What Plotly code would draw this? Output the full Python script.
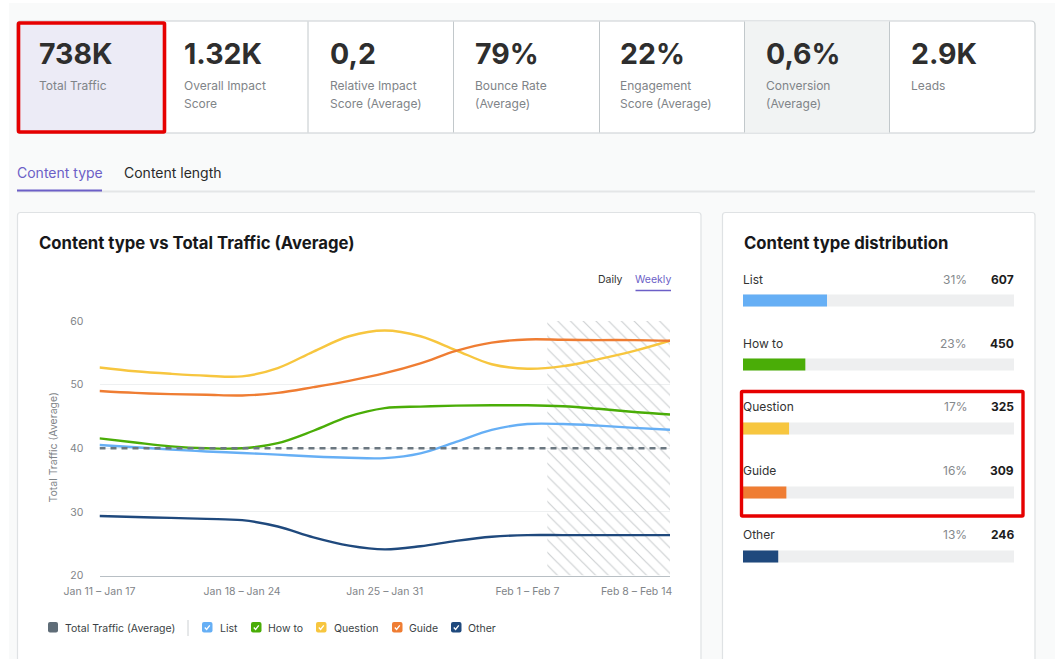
import plotly.graph_objects as go

W, H = 1055, 659
FONT = "Inter"

# ---------- data ----------
week_labels = ["Jan 11 – Jan 17", "Jan 18 – Jan 24", "Jan 25 – Jan 31", "Feb 1 – Feb 7", "Feb 8 – Feb 14"]
week_ticks = [0, 1, 2, 3, 4]
week_pos = [0, 0.25, 0.5, 0.75, 1, 1.25, 1.5, 1.75, 2, 2.25, 2.5, 2.75, 3, 3.25, 3.5, 3.75, 4]
y_ticks = [20, 30, 40, 50, 60]
list_vals = [40.5, 40.15, 39.8, 39.5, 39.25, 39.0, 38.7, 38.5, 38.45, 39.2, 41.0, 42.9, 43.8, 43.8, 43.55, 43.2, 42.9]
howto_vals = [41.55, 40.9, 40.3, 40.0, 40.0, 40.8, 42.75, 45.0, 46.3, 46.55, 46.7, 46.75, 46.75, 46.6, 46.2, 45.7, 45.3]
question_vals = [52.7, 52.1, 51.7, 51.4, 51.3, 52.6, 55.2, 57.6, 58.5, 57.6, 55.4, 53.2, 52.5, 52.9, 54.0, 55.3, 56.9]
guide_vals = [49.0, 48.7, 48.5, 48.4, 48.3, 48.7, 49.6, 50.6, 51.8, 53.35, 55.3, 56.6, 57.1, 57.05, 57.0, 57.0, 56.9]
other_vals = [29.35, 29.2, 29.05, 28.9, 28.7, 27.7, 26.0, 24.7, 24.1, 24.6, 25.45, 26.1, 26.35, 26.35, 26.35, 26.35, 26.35]
average_vals = [40] * len(week_pos)
hatch_start, hatch_end = 3.14, 4

kpi_values = ["738K", "1.32K", "0,2", "79%", "22%", "0,6%", "2.9K"]
kpi_labels = [["Total Traffic"], ["Overall Impact", "Score"], ["Relative Impact", "Score (Average)"],
              ["Bounce Rate", "(Average)"], ["Engagement", "Score (Average)"], ["Conversion", "(Average)"], ["Leads"]]

dist_names = ["List", "How to", "Question", "Guide", "Other"]
dist_pct = [31, 23, 17, 16, 13]
dist_counts = [607, 450, 325, 309, 246]
series_colors = ["#66aff5", "#4aad07", "#f7c63f", "#ef7d33", "#1f497d"]

# ---------- pixel helpers ----------
px = lambda x: x / W
py = lambda y: 1 - y / H


def rrect(x0, y0, x1, y1, r=0):
    X = lambda v: f"{px(v):.5f}"
    Y = lambda v: f"{py(v):.5f}"
    if r == 0:
        return f"M{X(x0)},{Y(y0)}L{X(x1)},{Y(y0)}L{X(x1)},{Y(y1)}L{X(x0)},{Y(y1)}Z"
    return (f"M{X(x0+r)},{Y(y0)}L{X(x1-r)},{Y(y0)}Q{X(x1)},{Y(y0)} {X(x1)},{Y(y0+r)}"
            f"L{X(x1)},{Y(y1-r)}Q{X(x1)},{Y(y1)} {X(x1-r)},{Y(y1)}"
            f"L{X(x0+r)},{Y(y1)}Q{X(x0)},{Y(y1)} {X(x0)},{Y(y1-r)}"
            f"L{X(x0)},{Y(y0+r)}Q{X(x0)},{Y(y0)} {X(x0+r)},{Y(y0)}Z")


shapes, annos = [], []


def box(x0, y0, x1, y1, fill="rgba(0,0,0,0)", line="rgba(0,0,0,0)", lw=1, r=0, layer="below"):
    shapes.append(dict(type="path", xref="paper", yref="paper", path=rrect(x0, y0, x1, y1, r),
                       fillcolor=fill, line=dict(color=line, width=lw), layer=layer))


def seg(x0, y0, x1, y1, color, lw=1, layer="below"):
    shapes.append(dict(type="line", xref="paper", yref="paper", x0=px(x0), x1=px(x1), y0=py(y0), y1=py(y1),
                       line=dict(color=color, width=lw), layer=layer))


def text(x, y, s, size=12, color="#222", anchor="left", bold=False, angle=0):
    annos.append(dict(xref="paper", yref="paper", x=px(x), y=py(y), text=f"<b>{s}</b>" if bold else s,
                      showarrow=False, xanchor=anchor, yanchor="middle", textangle=angle,
                      font=dict(family=FONT, size=size, color=color), borderpad=0, borderwidth=0))


# page
box(9, 3, 1055, 659, fill="#f9fafa")

# KPI strip
dividers = [166, 308, 453.5, 599.5, 744.5, 889.5]
box(17, 21, 1035, 133, fill="#ffffff", line="#c9ced1", lw=1.2, r=4)
box(744.5, 21.5, 889.5, 132.5, fill="#f1f3f3")
for d in dividers[1:]:
    seg(d, 21.5, d, 132.5, "#c2c8cb", 1)
box(18.5, 23, 164.5, 132, fill="#ecebf6", line="#e60000", lw=3.6, r=1)
kpi_x = [39, 184, 330, 475, 620, 766, 911]
for x, v, lab in zip(kpi_x, kpi_values, kpi_labels):
    text(x, 53.5, v, size=28.5, color="#2e2e2e", bold=True)
    for i, l in enumerate(lab):
        text(x, 86 + 17 * i, l, size=12, color="#7f8488")

# tabs
text(17, 173, "Content type", size=14, color="#6c5fc7")
text(124, 173, "Content length", size=14, color="#2a2a2a")
seg(17, 191.5, 1035, 191.5, "#e4e6e7", 2)
seg(17, 190.5, 102, 190.5, "#6c5fc7", 2)

# cards
box(17.5, 212.5, 701, 675, fill="#ffffff", line="#dfe2e4", lw=1.2, r=3)
box(722.5, 212.5, 1035, 675, fill="#ffffff", line="#dfe2e4", lw=1.2, r=3)
text(39, 243, "Content type vs Total Traffic (Average)", size=16.7, color="#17181a", bold=True)
text(743.5, 243, "Content type distribution", size=16.7, color="#17181a", bold=True)

# Daily / Weekly
text(598, 279.5, "Daily", size=10.5, color="#333")
text(635, 279.5, "Weekly", size=10.5, color="#6c5fc7")
seg(635.5, 290.5, 671, 290.5, "#6c5fc7", 1.6)

# axis title and clamped last tick label
text(52.5, 448, "Total Traffic (Average)", size=10.5, color="#7f8488", anchor="center", angle=-90)
annos.append(dict(xref="x", yref="paper", x=week_ticks[-1], y=py(591), text=week_labels[-1], showarrow=False,
                  xanchor="right", yanchor="middle", xshift=4,
                  font=dict(family=FONT, size=10.5, color="#7f8488")))

# legend
box(48, 622, 58, 632.5, fill="#5f6d78", r=2)
text(65, 628, "Total Traffic (Average)", size=10.5, color="#3a3f44")
seg(188, 620, 188, 636, "#ccd0d3", 1)
legend_box_x = [202, 251, 316, 392, 451]
legend_text_x = [220, 268, 334, 409, 468]
for bx, tx, name, c in zip(legend_box_x, legend_text_x, dist_names, series_colors):
    box(bx, 622, bx + 10.5, 632.5, fill=c, r=2)
    shapes.append(dict(type="path", xref="paper", yref="paper",
                       path=f"M{px(bx+2.8):.5f},{py(627.5):.5f}L{px(bx+4.6):.5f},{py(629.5):.5f}L{px(bx+7.8):.5f},{py(625.3):.5f}",
                       line=dict(color="#ffffff", width=1.3), layer="above"))
    text(tx, 628, name, size=10.5, color="#3a3f44")

# distribution text
label_y = [279.5, 343, 406.5, 470.5, 534.5]
for y, n, p, c in zip(label_y, dist_names, dist_pct, dist_counts):
    text(743, y, n, size=12, color="#333")
    text(967, y, f"{p}%", size=12, color="#85898c", anchor="right")
    text(1014, y, str(c), size=12, color="#1c1c1c", anchor="right", bold=True)

# highlight on distribution
box(741.5, 391.5, 1023, 516, line="#e60000", lw=3.4, r=1, layer="above")

# ---------- traces ----------
fig = go.Figure()
fig.add_trace(go.Bar(x=[(hatch_start + hatch_end) / 2], width=[hatch_end - hatch_start], y=[y_ticks[-1] - y_ticks[0]],
                     base=[y_ticks[0]], xaxis="x", yaxis="y", showlegend=False, hoverinfo="skip",
                     marker=dict(color="rgba(0,0,0,0)", line=dict(width=0),
                                 pattern=dict(shape="\\", size=9, solidity=0.13, fgcolor="#cdd0d2",
                                              bgcolor="rgba(255,255,255,0)", fillmode="replace"))))
for vals, name, c in zip([question_vals, guide_vals, howto_vals, list_vals, other_vals],
                         ["Question", "Guide", "How to", "List", "Other"],
                         [series_colors[2], series_colors[3], series_colors[1], series_colors[0], series_colors[4]]):
    fig.add_trace(go.Scatter(x=week_pos, y=vals, mode="lines", name=name, xaxis="x", yaxis="y",
                             line=dict(color=c, width=2.4, shape="spline", smoothing=1.0), showlegend=False,
                             cliponaxis=False))
fig.add_trace(go.Scatter(x=week_pos, y=average_vals, mode="lines", name="Total Traffic (Average)",
                         line=dict(color="#6b7780", width=2.5, dash="6px,5px"), showlegend=False, xaxis="x", yaxis="y"))

# distribution bars: track then value
fig.add_trace(go.Bar(y=dist_names, x=[100] * len(dist_names), orientation="h", width=0.19, xaxis="x2", yaxis="y2",
                     marker=dict(color="#eeeff0", line=dict(width=0)), showlegend=False, hoverinfo="skip"))
fig.add_trace(go.Bar(y=dist_names, x=dist_pct, orientation="h", width=0.19, xaxis="x2", yaxis="y2",
                     marker=dict(color=series_colors, line=dict(width=0)), showlegend=False))

fig.update_layout(
    width=W, height=H, autosize=False, margin=dict(l=0, r=0, t=0, b=0, pad=0, autoexpand=False),
    paper_bgcolor="#ffffff", plot_bgcolor="rgba(0,0,0,0)", barmode="overlay",
    font=dict(family=FONT), shapes=shapes, annotations=annos,
    xaxis=dict(domain=[px(99.5), px(670)], range=[week_ticks[0], week_ticks[-1]], tickvals=week_ticks[:-1],
               ticktext=week_labels[:-1], showgrid=False, zeroline=False, showline=True, linecolor="#b8bfc4",
               linewidth=1, ticks="outside", ticklen=6, tickcolor="rgba(0,0,0,0)",
               tickfont=dict(family=FONT, size=10.5, color="#7f8488"), tickangle=0, anchor="y"),
    yaxis=dict(domain=[py(575.5), py(321)], range=[y_ticks[0], y_ticks[-1]], tickvals=y_ticks, showgrid=True,
               gridcolor="#eef0f1", gridwidth=1, zeroline=False, ticks="outside", ticklen=13,
               tickcolor="rgba(0,0,0,0)", tickfont=dict(family=FONT, size=10.5, color="#7f8488"), anchor="x"),
    xaxis2=dict(domain=[px(743), px(1014)], range=[0, 100], visible=False, anchor="y2"),
    yaxis2=dict(domain=[py(588.5), py(268.5)], type="category", categoryorder="array", categoryarray=dist_names,
                autorange=False, range=[4.5, -0.5], visible=False, anchor="x2"),
)

fig.write_html("out.html", config=dict(displayModeBar=False, responsive=False),
               post_script="document.body.style.margin='0';document.documentElement.style.overflow='hidden';")
